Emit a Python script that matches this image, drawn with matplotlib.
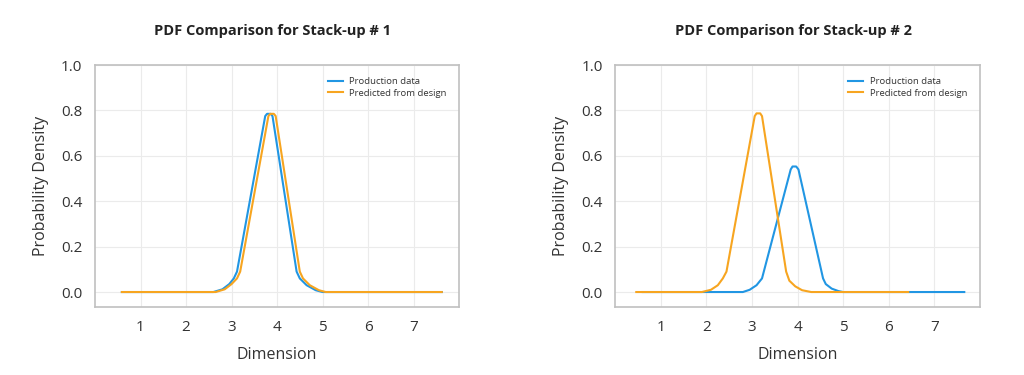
import matplotlib.pyplot as plt
import numpy as np

# stack-up 1
x1_prod = [0.59, 2.60, 2.80, 2.95, 3.05, 3.12, 3.74, 3.78, 3.86, 3.90, 4.43, 4.50, 4.65, 4.85, 5.00, 7.62]
y1_prod = [0.0, 0.0, 0.012, 0.035, 0.06, 0.09, 0.775, 0.785, 0.785, 0.775, 0.09, 0.06, 0.03, 0.008, 0.0, 0.0]
x1_pred = [0.59, 2.65, 2.85, 3.00, 3.12, 3.19, 3.81, 3.85, 3.93, 3.97, 4.50, 4.57, 4.72, 4.92, 5.07, 7.62]
y1_pred = y1_prod

# stack-up 2
x2_prod = [0.60, 2.80, 2.95, 3.10, 3.22, 3.85, 3.89, 3.97, 4.02, 4.56, 4.62, 4.75, 4.90, 5.00, 7.66]
y2_prod = [0.0, 0.0, 0.01, 0.03, 0.06, 0.54, 0.553, 0.553, 0.54, 0.06, 0.035, 0.015, 0.004, 0.0, 0.0]
x2_pred = [0.46, 1.90, 2.10, 2.25, 2.36, 2.44, 3.06, 3.10, 3.18, 3.22, 3.75, 3.82, 3.95, 4.10, 4.30, 6.43]
y2_pred = [0.0, 0.0, 0.01, 0.03, 0.06, 0.09, 0.775, 0.787, 0.787, 0.775, 0.09, 0.05, 0.025, 0.008, 0.0, 0.0]

blue = "#2196e3"
orange = "#f7a520"
txt = "#333333"

plt.rcParams['font.family'] = ['Open Sans', 'DejaVu Sans']

fig = plt.figure(figsize=(10.24, 3.75), dpi=100)

def draw(rect, xp, yp, xd, yd, num):
    ax = fig.add_axes(rect)
    ax.plot(xp, yp, color=blue, lw=1.5, label="Production data", solid_joinstyle="round")
    ax.plot(xd, yd, color=orange, lw=1.5, label="Predicted from design", solid_joinstyle="round")
    ax.set_xlim(0, 8)
    ax.set_ylim(-0.066, 1.0)
    ax.set_xticks([1, 2, 3, 4, 5, 6, 7])
    ax.set_yticks([0.0, 0.2, 0.4, 0.6, 0.8, 1.0])
    ax.set_yticklabels(["0.0", "0.2", "0.4", "0.6", "0.8", "1.0"])
    ax.grid(True, color="#ebebeb", lw=0.8)
    ax.set_axisbelow(True)
    for s in ax.spines.values():
        s.set_color("#c0c0c0")
        s.set_linewidth(1.2)
    ax.tick_params(length=0, labelsize=11, colors=txt, pad=9)
    ax.set_xlabel("Dimension", fontsize=11.5, color=txt, labelpad=9)
    ax.set_ylabel("Probability Density", fontsize=11.5, color=txt, labelpad=9)
    fig.text(rect[0] + rect[2] / 2 - 0.004, 0.917, "PDF Comparison for Stack-up # %d" % num,
             ha="center", va="center", fontsize=10.5, fontweight="bold", color="#222222")
    ax.legend(loc="upper right", frameon=False, fontsize=6.8, handlelength=1.6,
              labelspacing=0.25, borderaxespad=0.9, handletextpad=0.7, labelcolor=txt)
    return ax

draw([0.0928, 0.1813, 0.3555, 0.6453], x1_prod, y1_prod, x1_pred, y1_pred, 1)
draw([0.6009, 0.1813, 0.3559, 0.6453], x2_prod, y2_prod, x2_pred, y2_pred, 2)

fig.savefig("out.png", dpi=100)
